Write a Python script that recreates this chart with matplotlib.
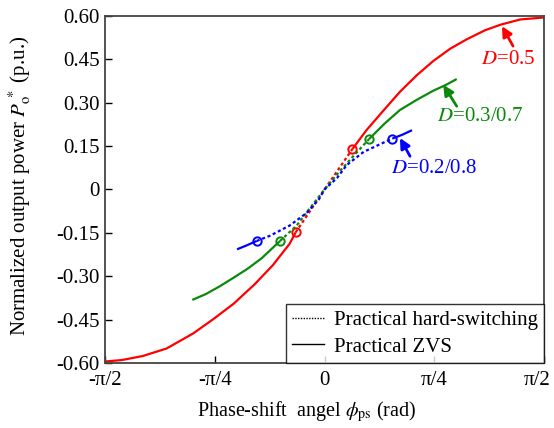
import numpy as np
import matplotlib
matplotlib.use("Agg")
import matplotlib.pyplot as plt
import matplotlib.transforms as mtransforms
from matplotlib.lines import Line2D

plt.rcParams['font.family'] = ['Liberation Serif', 'DejaVu Serif']
plt.rcParams['mathtext.fontset'] = 'stix'

# D = 0.5
red_phi = [-1.571, -1.45, -1.30, -1.13, -0.94, -0.80, -0.65, -0.50, -0.37, -0.25, -0.206,
           -0.10, 0.0, 0.10, 0.200,
           0.30, 0.42, 0.54, 0.66, 0.78, 0.90, 1.02, 1.15, 1.26, 1.40, 1.571]
red_p = [-0.595, -0.590, -0.576, -0.550, -0.498, -0.450, -0.395, -0.328, -0.262, -0.188, -0.148,
         -0.072, 0.0, 0.070, 0.140,
         0.205, 0.272, 0.338, 0.395, 0.445, 0.487, 0.520, 0.551, 0.570, 0.588, 0.595]
red_zvs = (-0.206, 0.200)

# D = 0.3 / 0.7
green_phi = [-0.946, -0.85, -0.75, -0.65, -0.55, -0.45, -0.318,
             -0.20, -0.10, 0.0, 0.10, 0.20, 0.318,
             0.43, 0.54, 0.66, 0.78, 0.87, 0.946]
green_p = [-0.382, -0.362, -0.335, -0.305, -0.274, -0.238, -0.178,
           -0.125, -0.062, 0.0, 0.058, 0.112, 0.174,
           0.228, 0.275, 0.310, 0.342, 0.362, 0.382]
green_zvs = (-0.318, 0.318)

# D = 0.2 / 0.8
blue_phi = [-0.626, -0.56, -0.485,
            -0.39, -0.25, -0.13, -0.04, 0.0, 0.09, 0.16, 0.28, 0.40, 0.485,
            0.56, 0.626]
blue_p = [-0.207, -0.194, -0.178,
          -0.160, -0.125, -0.082, -0.034, 0.0, 0.040, 0.085, 0.130, 0.157, 0.176,
          0.190, 0.205]
blue_zvs = (-0.485, 0.485)

series = [
    (red_phi, red_p, red_zvs, '#ff0000'),
    (green_phi, green_p, green_zvs, '#0a8a0a'),
    (blue_phi, blue_p, blue_zvs, '#0000ff'),
]

# label text, label centre, arrow tail, arrow head
labels = [
    ('$D$=0.5', (1.313, 0.448), (1.349, 0.496), (1.270, 0.565), '#ff0000'),
    ('$D$=0.3/0.7', (1.113, 0.254), (0.946, 0.288), (0.850, 0.362), '#0a8a0a'),
    ('$D$=0.2/0.8', (0.784, 0.074), (0.612, 0.115), (0.540, 0.178), '#0000ff'),
]

fig = plt.figure(figsize=(5.54, 4.28), dpi=100)
ax = fig.add_axes([0.1895, 0.152, 0.7925, 0.8106])

for phi, p, (lo, hi), c in series:
    phi = np.array(phi)
    p = np.array(p)
    left = phi <= lo
    mid = (phi >= lo) & (phi <= hi)
    right = phi >= hi
    ax.plot(phi[left], p[left], color=c, lw=1.6, solid_capstyle='butt')
    ax.plot(phi[right], p[right], color=c, lw=1.6, solid_capstyle='butt')
    ax.plot(phi[mid], p[mid], color=c, lw=1.6, linestyle=(0, (1.4, 1.2)))
    ends = np.isin(phi, [lo, hi])
    ax.plot(phi[ends], p[ends], 'o', ms=6, mfc='none', mec=c, mew=1.4)

for txt, pos, tail, head, c in labels:
    ax.text(pos[0], pos[1], txt, color=c, fontsize=15, ha='center', va='center')
    ax.annotate('', xy=head, xytext=tail,
                arrowprops=dict(arrowstyle='-|>', color=c, lw=2, mutation_scale=15,
                                shrinkA=0, shrinkB=0))

ax.set_xlim(-np.pi / 2, np.pi / 2)
ax.set_ylim(-0.6, 0.6)
ax.set_xticks([-np.pi / 2, -np.pi / 4, 0, np.pi / 4, np.pi / 2])
ax.set_xticklabels(['-\u03c0/2', '-\u03c0/4', '0', '\u03c0/4', '\u03c0/2'])
yt = [-0.60, -0.45, -0.30, -0.15, 0, 0.15, 0.30, 0.45, 0.60]
ax.set_yticks(yt)
ax.set_yticklabels(['%.2f' % v if v != 0 else '0' for v in yt])
ax.tick_params(direction='in', length=5, width=1, labelsize=15,
               top=False, right=False)
ax.tick_params(axis='x', pad=6)
ax.tick_params(axis='y', pad=4)
# keep the right-most tick label inside the figure
last = ax.get_xticklabels()[-1]
last.set_transform(last.get_transform() +
                   mtransforms.ScaledTranslation(-5 / 72, 0, fig.dpi_scale_trans))
for s in ax.spines.values():
    s.set_color('#444444')
    s.set_linewidth(1.3)

ax.set_xlabel('Phase-shift  angel $\\phi_{\\mathrm{ps}}$ (rad)', fontsize=14.5)
ax.xaxis.set_label_coords(0.46, -0.105)
ax.set_ylabel('Normalized output power $P_{\\mathrm{o}}^{\\,*}$ (p.u.)', fontsize=15)
ax.yaxis.set_label_coords(-0.194, 0.51)
ax.yaxis.label.set_va('center')

handles = [Line2D([], [], color='k', lw=1, linestyle=(0, (1, 1))),
           Line2D([], [], color='k', lw=1)]
leg = ax.legend(handles, ['Practical hard-switching', 'Practical ZVS'],
                loc='lower right', fontsize=15, frameon=True, fancybox=False,
                borderaxespad=0, handlelength=1.55, handletextpad=0.45,
                borderpad=0.3, labelspacing=0.35)
leg.get_frame().set_edgecolor('black')
leg.get_frame().set_linewidth(1)

fig.savefig('out.png', dpi=100)
